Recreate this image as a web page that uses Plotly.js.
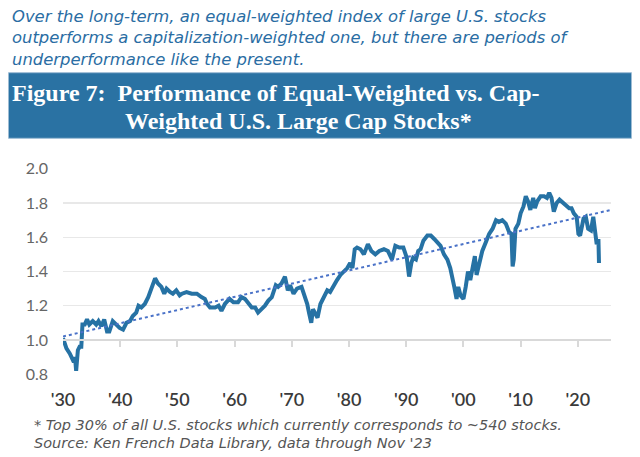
<!DOCTYPE html>
<html>
<head>
<meta charset="utf-8">
<script src="https://cdn.plot.ly/plotly-3.0.1.min.js"></script>
<style>
html,body{margin:0;padding:0;background:#fff;}
#chart{width:640px;height:457px;}
</style>
</head>
<body>
<div id="chart"></div>
<script>
// ---- Data ----
const years = [1930.0,1930.6,1931.2,1931.6,1931.9,1932.1,1932.3,1932.6,1932.9,1933.2,1933.4,1933.8,1934.2,1934.6,1935.2,1935.8,1936.2,1936.7,1937.2,1937.7,1938.1,1938.7,1939.3,1939.9,1940.5,1941.1,1941.7,1942.2,1942.8,1943.2,1943.7,1944.3,1944.9,1945.3,1945.7,1946.1,1946.6,1947.2,1947.7,1948.1,1948.7,1949.2,1949.8,1950.4,1950.8,1951.6,1952.5,1953.4,1954.2,1954.8,1955.2,1955.7,1956.6,1957.2,1957.7,1958.3,1959.1,1959.8,1960.6,1961.2,1961.8,1962.4,1963.0,1963.6,1964.1,1964.7,1965.3,1965.9,1966.5,1967.2,1967.6,1968.2,1968.8,1969.3,1969.7,1970.3,1970.9,1971.7,1972.2,1972.7,1973.0,1973.4,1973.7,1974.1,1974.5,1975.0,1975.6,1976.2,1976.7,1977.3,1977.9,1978.5,1979.1,1979.7,1980.2,1980.6,1981.0,1981.4,1982.0,1982.6,1983.3,1983.9,1984.6,1985.3,1986.1,1986.8,1987.5,1988.1,1988.8,1989.5,1990.1,1990.5,1990.9,1991.2,1991.7,1992.1,1992.5,1993.0,1993.7,1994.3,1994.9,1995.4,1996.0,1996.6,1997.2,1997.7,1998.1,1998.4,1998.8,1999.1,1999.5,2000.0,2000.4,2000.8,2001.2,2001.6,2002.0,2002.3,2002.7,2003.3,2003.9,2004.5,2005.1,2005.7,2006.2,2006.8,2007.4,2008.0,2008.4,2008.6,2008.8,2009.1,2009.6,2010.0,2010.5,2010.9,2011.3,2011.7,2012.2,2012.5,2012.9,2013.5,2014.1,2014.6,2015.0,2015.4,2015.8,2016.3,2016.8,2017.4,2017.9,2018.5,2018.9,2019.3,2019.8,2020.1,2020.4,2020.7,2021.0,2021.4,2021.8,2022.3,2022.7,2023.0,2023.3,2023.6,2023.7];
const relPerf = [1.01,0.95,0.92,0.89,0.87,0.90,0.82,0.94,0.96,0.96,1.09,1.09,1.12,1.09,1.11,1.09,1.11,1.08,1.12,1.05,1.05,1.11,1.09,1.07,1.06,1.10,1.11,1.14,1.16,1.20,1.19,1.21,1.25,1.29,1.33,1.36,1.33,1.31,1.27,1.30,1.28,1.27,1.29,1.26,1.27,1.28,1.27,1.27,1.25,1.24,1.21,1.19,1.19,1.20,1.17,1.21,1.24,1.22,1.22,1.25,1.24,1.21,1.19,1.19,1.16,1.18,1.20,1.23,1.25,1.32,1.31,1.33,1.37,1.29,1.32,1.27,1.30,1.31,1.26,1.21,1.16,1.10,1.18,1.15,1.13,1.21,1.25,1.29,1.28,1.32,1.35,1.38,1.40,1.42,1.45,1.42,1.53,1.54,1.53,1.50,1.56,1.52,1.50,1.52,1.53,1.52,1.47,1.55,1.54,1.54,1.48,1.37,1.45,1.48,1.47,1.52,1.53,1.58,1.61,1.61,1.59,1.57,1.55,1.50,1.47,1.42,1.37,1.31,1.24,1.31,1.26,1.24,1.31,1.40,1.35,1.43,1.49,1.38,1.44,1.52,1.57,1.62,1.65,1.70,1.69,1.70,1.68,1.63,1.62,1.43,1.47,1.65,1.68,1.74,1.78,1.84,1.81,1.76,1.83,1.77,1.81,1.84,1.84,1.83,1.86,1.83,1.75,1.80,1.82,1.80,1.79,1.77,1.77,1.74,1.72,1.62,1.61,1.67,1.71,1.72,1.65,1.64,1.72,1.64,1.56,1.59,1.45];
const trendYears = [1930, 2025.8];
const trendValues = [1.02, 1.76];
const xTickVals = [1930,1940,1950,1960,1970,1980,1990,2000,2010,2020];
const xTickText = ["'30","'40","'50","'60","'70","'80","'90","'00","'10","'20"];
const yTickVals = [0.8,1.0,1.2,1.4,1.6,1.8,2.0];

const headerLines = [
  "Over the long-term, an equal-weighted index of large U.S. stocks",
  "outperforms a capitalization-weighted one, but there are periods of",
  "underperformance like the present."
];
const titleLines = [
  "Figure 7:  Performance of Equal-Weighted vs. Cap-",
  "Weighted U.S. Large Cap Stocks*"
];
const footLines = [
  "* Top 30% of all U.S. stocks which currently corresponds to ~540 stocks.",
  "Source: Ken French Data Library, data through Nov '23"
];

// ---- Layout geometry ----
const W = 640, H = 457;
const M = {l:63, r:29, t:168, b:82};
const PW = W - M.l - M.r, PH = H - M.t - M.b;
const px2x = p => (p - M.l) / PW;
const px2y = p => (H - M.b - p) / PH;
const yRange = [0.795, 2.005];
const xRange = [1930, 2025.8];

const traces = [
  {x: years, y: relPerf, type:'scatter', mode:'lines', xaxis:'x', yaxis:'y',
   line:{color:'#2672a4', width:4}, hoverinfo:'skip'},
  {x: trendYears, y: trendValues, type:'scatter', mode:'lines', xaxis:'x2', yaxis:'y',
   line:{color:'#4a72c8', width:2, dash:'dot'}, hoverinfo:'skip'}
];

const annotations = [];
headerLines.forEach((t,i)=>{
  annotations.push({text:t, xref:'paper', yref:'paper', x:px2x(10), y:px2y(16 + i*21.7),
    xanchor:'left', yanchor:'middle', showarrow:false,
    font:{family:'DejaVu Sans', size:16.4, color:'#2a6da3', style:'italic'}});
});
const titleX = [10, 123];
const titleY = [93, 121];
titleLines.forEach((t,i)=>{
  annotations.push({text:t, xref:'paper', yref:'paper', x:px2x(titleX[i]), y:px2y(titleY[i]),
    xanchor:'left', yanchor:'middle', showarrow:false,
    font:{family:'Liberation Serif', size:24, color:'#ffffff', weight:'bold'}});
});
const footY = [425, 443];
const footX = [32, 32];
footLines.forEach((t,i)=>{
  annotations.push({text:t, xref:'paper', yref:'paper', x:px2x(footX[i]), y:px2y(footY[i]),
    xanchor:'left', yanchor:'middle', showarrow:false,
    font:{family:'DejaVu Sans', size:14.5, color:'#555555', style:'italic'}});
});

const layout = {
  width: W, height: H,
  margin: M,
  paper_bgcolor:'#ffffff', plot_bgcolor:'#ffffff',
  showlegend:false,
  xaxis: {
    range: xRange, anchor:'free', position:(1.0 - yRange[0])/(yRange[1]-yRange[0]),
    showline:true, linecolor:'#d9d9d9', linewidth:2.5,
    ticks:'outside', ticklen:6, tickwidth:2, tickcolor:'#d9d9d9',
    tickvals: xTickVals.slice(1), showticklabels:false,
    showgrid:false, zeroline:false, fixedrange:true
  },
  xaxis2: {
    range: xRange, overlaying:'x', anchor:'y', side:'bottom',
    showline:false, ticks:'', showgrid:false, zeroline:false,
    tickvals: xTickVals, ticktext: xTickText, ticklabelstandoff: 12,
    tickfont:{family:'Lato', size:18, color:'#3a3a3a', weight:600}
  },
  yaxis: {
    range: yRange, tickvals: yTickVals, tickformat:'.1f',
    showgrid:true, gridcolor:'#e8e8e8', gridwidth:1.5,
    zeroline:false, showline:false, ticks:'', ticklabelstandoff: 14,
    tickfont:{family:'Lato', size:16, color:'#666666'}
  },
  shapes: [
    {type:'rect', xref:'paper', yref:'paper', x0:px2x(8.5), x1:px2x(631.5), y0:px2y(72.7), y1:px2y(138.3),
     fillcolor:'#2a72a3', line:{color:'#9dbcd4', width:1}, layer:'below'}
  ],
  annotations: annotations
};

Plotly.newPlot('chart', traces, layout, {staticPlot:true, displayModeBar:false});
</script>
</body>
</html>
